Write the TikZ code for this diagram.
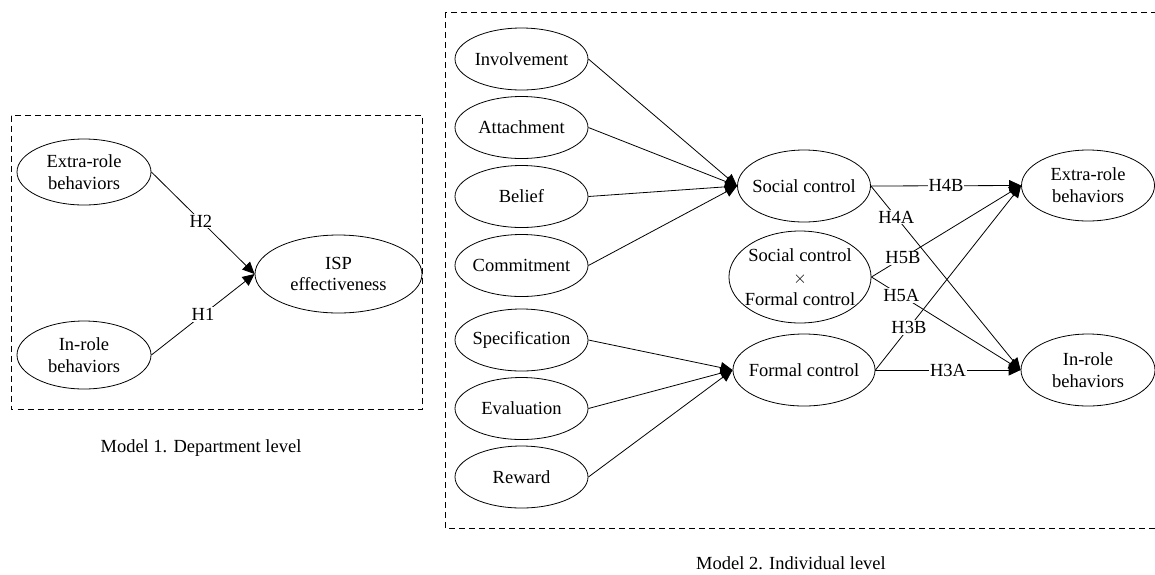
\documentclass[tikz,border=0pt]{standalone}
\usepackage{fontspec}
\setmainfont{Liberation Serif}
\usetikzlibrary{shapes.geometric,arrows.meta}
\begin{document}
\begin{tikzpicture}[x=1pt, y=-1pt,
font=\fontsize{18.5}{21.7}\selectfont,
var/.style={draw, ellipse, align=center, inner xsep=-5pt, inner ysep=0pt,
  minimum width=133pt, minimum height=62pt, line width=0.8pt},
hyp/.style={fill=white, inner sep=1pt},
link/.style={line width=0.8pt, -{Triangle[length=12pt,width=11pt]}},
modelbox/.style={line width=0.8pt, dash pattern=on 6pt off 4pt}]
\useasboundingbox (0,0) rectangle (1155,574);
\clip (0,0) rectangle (1155,574);

\draw[modelbox] (11,115.5) rectangle (422.5,409);
\node[var, minimum width=134pt, minimum height=66pt] (ext1) at (84,172) {Extra-role\\behaviors};
\node[var, minimum width=134pt, minimum height=68pt] (inr1) at (84,355) {In-role\\behaviors};
\node[var, minimum width=167pt, minimum height=78pt] (isp) at (338.5,274) {ISP\\effectiveness};
\draw[link] (ext1.east) -- node[hyp, pos=0.48] {H2} (isp.west);
\draw[link] (inr1.east) -- node[hyp, pos=0.5] {H1} (isp.west);
\node[anchor=base] (cap1) at (201,452) {Model 1. Department level};

\draw[modelbox] (445,12) rectangle (1170,528);
\node[var] (inv) at (521.5,59) {Involvement};
\node[var] (att) at (521.5,127.5) {Attachment};
\node[var] (bel) at (521.5,196.5) {Belief};
\node[var] (com) at (521.5,265.5) {Commitment};
\node[var] (spe) at (521.5,340) {Specification};
\node[var] (eva) at (521.5,408.5) {Evaluation};
\node[var] (rew) at (521.5,477) {Reward};

\node[var, minimum height=72pt] (soc) at (804,186) {Social control};
\node[var, minimum width=141pt, minimum height=92pt] (sxf) at (800,277) {Social control\\$\times$\\Formal control};
\node[var, minimum height=72pt] (frm) at (804,370) {Formal control};

\node[var, minimum height=71pt] (ext2) at (1088,185.5) {Extra-role\\behaviors};
\node[var, minimum width=134pt, minimum height=72pt] (inr2) at (1088,370) {In-role\\behaviors};

\foreach \src in {inv,att,bel,com}
  \draw[link] (\src.east) -- (soc.west);
\foreach \src in {spe,eva,rew}
  \draw[link] (\src.east) -- (frm.west);

\draw[link] (soc.east) -- node[hyp, pos=0.5] {H4B} (ext2.west);
\draw[link] (soc.east) -- node[hyp, pos=0.17] {H4A} (inr2.west);
\draw[link] (sxf.east) -- node[hyp, pos=0.21] {H5B} (ext2.west);
\draw[link] (sxf.east) -- node[hyp, pos=0.2] {H5A} (inr2.west);
\draw[link] (frm.east) -- node[hyp, pos=0.23] {H3B} (ext2.west);
\draw[link] (frm.east) -- node[hyp, pos=0.5] {H3A} (inr2.west);

\node[anchor=base] (cap2) at (791,569) {Model 2. Individual level};
\end{tikzpicture}
\end{document}
